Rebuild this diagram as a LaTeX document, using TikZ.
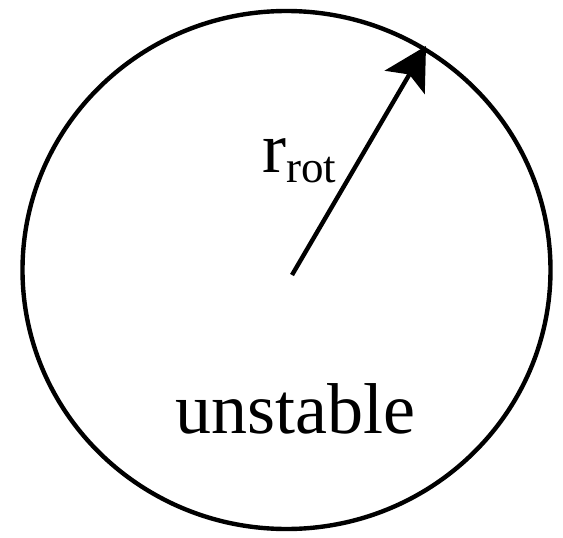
\documentclass[tikz,border=0pt]{standalone}
\usepackage{fontspec}
\setmainfont{Liberation Serif}
\usetikzlibrary{arrows.meta}
\begin{document}
\begin{tikzpicture}[x=1pt,y=-1pt,
  rim/.style={line width=4.4pt,draw=black},
  radius arrow/.style={line width=4.4pt,-{Stealth[length=42pt,width=46pt,inset=9pt]}},
  bigtext/.style={inner sep=0pt,font=\fontsize{72}{80}\selectfont}]
\useasboundingbox (0,0) rectangle (563,538);
\fill[white] (0,0) rectangle (563,538);
\draw[rim] (286.5,270) ellipse [x radius=264, y radius=259];
\coordinate (ctr) at (292,275);
\coordinate (tip) at (426,46);
\draw[radius arrow] (ctr) -- (tip);
\node[bigtext,anchor=base west] (rlabel) at (262,172) {r\raisebox{-10pt}{\fontsize{45}{50}\selectfont rot}};
\node[bigtext,anchor=base] (state) at (295,433) {unstable};
\end{tikzpicture}
\end{document}
